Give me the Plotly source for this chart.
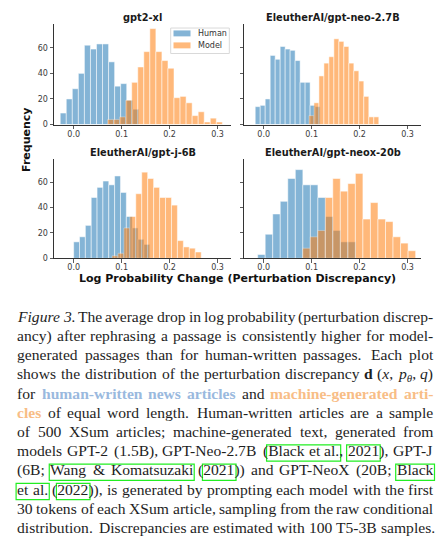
import plotly.graph_objects as go

FIG_W, FIG_H = 445, 551

# ---------------- data ----------------
panel_titles = ["gpt2-xl", "EleutherAI/gpt-neo-2.7B", "EleutherAI/gpt-j-6B", "EleutherAI/gpt-neox-20b"]
series_names = ["Human", "Model"]
series_colors = ["#1f77b4", "#ff7f0e"]
x_tick_vals = [0.0, 0.1, 0.2, 0.3]
y_tick_vals = [0, 20, 40, 60]
x_label = "Log Probability Change (Perturbation Discrepancy)"
y_label = "Frequency"

# histogram: first bin edge, bin width, counts per bin
gpt2_human_edge0, gpt2_human_binw = -0.028, 0.0126
gpt2_human_counts = [9, 20, 28, 40, 62, 59, 63, 63, 49, 30, 32, 19, 12]
gpt2_model_edge0, gpt2_model_binw = 0.0706, 0.0126
gpt2_model_counts = [4, 4, 6, 19, 33, 45, 57, 75, 57, 50, 44, 21, 22, 17, 7, 10, 2, 5, 2]

neo_human_edge0, neo_human_binw = -0.0176, 0.0104
neo_human_counts = [14, 15, 20, 54, 51, 61, 59, 58, 50, 33, 33, 15, 14]
neo_model_edge0, neo_model_binw = 0.0944, 0.0104
neo_model_counts = [7, 17, 38, 48, 53, 67, 65, 61, 48, 42, 34, 22, 6, 6]

gptj_human_edge0, gptj_human_binw = 0.0, 0.0122
gptj_human_counts = [13, 17, 26, 48, 56, 61, 58, 65, 52, 33, 24, 15, 11]
gptj_model_edge0, gptj_model_binw = 0.0799, 0.0124
gptj_model_counts = [2, 4, 24, 33, 51, 68, 63, 56, 48, 48, 42, 14, 9, 8, 5]

neox_human_edge0, neox_human_binw = -0.0125, 0.0157
neox_human_counts = [3, 19, 35, 45, 63, 70, 58, 58, 48, 33, 22, 13, 13]
neox_model_edge0, neox_model_binw = 0.0813, 0.0157
neox_model_counts = [8, 17, 22, 48, 63, 53, 59, 67, 31, 44, 31, 29, 17, 12, 6]

panels = [
    [(gpt2_human_edge0, gpt2_human_binw, gpt2_human_counts), (gpt2_model_edge0, gpt2_model_binw, gpt2_model_counts)],
    [(neo_human_edge0, neo_human_binw, neo_human_counts), (neo_model_edge0, neo_model_binw, neo_model_counts)],
    [(gptj_human_edge0, gptj_human_binw, gptj_human_counts), (gptj_model_edge0, gptj_model_binw, gptj_model_counts)],
    [(neox_human_edge0, neox_human_binw, neox_human_counts), (neox_model_edge0, neox_model_binw, neox_model_counts)],
]

CAPTION_LINES = [
    "§iFigure 3.§r The average drop in log probability (perturbation discrep-",
    "ancy) after rephrasing a passage is consistently higher for model-",
    "generated passages than for human-written passages. Each plot",
    "shows the distribution of the perturbation discrepancy §kd§r (§ix§r, §ip§sθ§r, §iq§r)",
    "for §bhuman-written news articles§r and §omachine-generated arti-",
    "§ocles§r of equal word length. Human-written articles are a sample",
    "of 500 XSum articles; machine-generated text, generated from",
    "models GPT-2 (1.5B), GPT-Neo-2.7B ([Black et al.], [2021]), GPT-J",
    "(6B; [Wang & Komatsuzaki] ([2021])) and GPT-NeoX (20B; [Black",
    "et al.] ([2022])), is generated by prompting each model with the first",
    "30 tokens of each XSum article, sampling from the raw conditional",
    "distribution. Discrepancies are estimated with 100 T5-3B samples.",
]

# ---------------- geometry (pixels) ----------------
panel_px = [(54, 231, 24, 125.7), (244, 421, 24, 125.7),
            (54, 231, 160, 260.7), (244, 421, 160, 260.7)]
X_RANGE = [-0.041, 0.328]
Y_RANGE = [0, 78.75]
ALPHA = 0.55


def px_x(p):
    return p / FIG_W


def px_y(p):
    return 1 - p / FIG_H


def rgba(hexcol, a):
    h = hexcol.lstrip("#")
    return "rgba(%d,%d,%d,%.3f)" % (int(h[0:2], 16), int(h[2:4], 16), int(h[4:6], 16), a)


fig = go.Figure()
layout = dict(
    width=FIG_W, height=FIG_H,
    margin=dict(l=0, r=0, t=0, b=0),
    paper_bgcolor="white", plot_bgcolor="white",
    barmode="overlay", bargap=0,
    showlegend=False,
)
annotations = []
shape_list = []

for k, (x0, x1, ytop, ybot) in enumerate(panel_px):
    sfx = "" if k == 0 else str(k + 1)
    xa, ya = "x" + sfx, "y" + sfx
    layout["xaxis" + sfx] = dict(
        domain=[px_x(x0), px_x(x1)], anchor=ya, range=X_RANGE,
        showgrid=False, zeroline=False, showline=True, linecolor="#333", linewidth=1,
        ticks="outside", ticklen=3.5, tickwidth=0.8, tickcolor="#333",
        tickvals=x_tick_vals, tickformat=".1f", ticklabelstandoff=-2,
        tickfont=dict(family="DejaVu Sans", size=8, color="#3a3a3a"),
    )
    layout["yaxis" + sfx] = dict(
        domain=[px_y(ybot), px_y(ytop)], anchor=xa, range=Y_RANGE,
        showgrid=False, zeroline=False, showline=True, linecolor="#333", linewidth=1,
        ticks="outside", ticklen=3.5, tickwidth=0.8, tickcolor="#333",
        tickvals=y_tick_vals, showticklabels=(k % 2 == 0),
        tickfont=dict(family="DejaVu Sans", size=8, color="#3a3a3a"),
    )
    for s, (edge0, binw, counts) in enumerate(panels[k]):
        centers = [edge0 + binw * (i + 0.5) for i in range(len(counts))]
        fig.add_trace(go.Bar(
            x=centers, y=counts, width=[binw] * len(counts),
            name=series_names[s], legendgroup=series_names[s],
            marker=dict(color=series_colors[s], line=dict(color="white", width=0.5)),
            opacity=ALPHA, xaxis=xa, yaxis=ya, hoverinfo="skip",
        ))
    annotations.append(dict(
        text="<b>%s</b>" % panel_titles[k], xref="paper", yref="paper",
        x=px_x((x0 + x1) / 2), y=px_y(ytop - 6.3), xanchor="center", yanchor="middle",
        showarrow=False, font=dict(family="DejaVu Sans", size=9.8, color="#1a1a1a"),
    ))

# legend (matplotlib style) inside first panel
LEG_BOX = (170.7, 229.3, 28.3, 54)
shape_list.append(dict(type="rect", xref="paper", yref="paper",
                       x0=px_x(LEG_BOX[0]), x1=px_x(LEG_BOX[1]), y0=px_y(LEG_BOX[3]), y1=px_y(LEG_BOX[2]),
                       line=dict(color="#d9d9d9", width=1), fillcolor="rgba(255,255,255,0.85)", layer="above"))
for s, yc in enumerate([33.7, 45.8]):
    shape_list.append(dict(type="rect", xref="paper", yref="paper",
                           x0=px_x(173.5), x1=px_x(190.5), y0=px_y(yc + 3), y1=px_y(yc - 3),
                           line=dict(width=0), fillcolor=rgba(series_colors[s], ALPHA), layer="above"))
    annotations.append(dict(text=series_names[s], xref="paper", yref="paper",
                            x=px_x(196), y=px_y(yc), xanchor="left", yanchor="middle",
                            showarrow=False, font=dict(family="DejaVu Sans", size=8, color="#333")))

annotations.append(dict(
    text="<b>%s</b>" % x_label, xref="paper", yref="paper",
    x=px_x(237.8), y=px_y(281.5), xanchor="center", yanchor="middle",
    showarrow=False, font=dict(family="DejaVu Sans", size=11, color="#111"),
))
annotations.append(dict(
    text="<b>%s</b>" % y_label, xref="paper", yref="paper", textangle=-90,
    x=px_x(27.2), y=px_y(141), xanchor="center", yanchor="middle",
    showarrow=False, font=dict(family="DejaVu Sans", size=11, color="#111"),
))

# ---------------- caption (justified, word-by-word) ----------------
REG = {' ': .25, '(': .333, ')': .333, ',': .25, '-': .333, '.': .25, ';': .278, '&': .778, ':': .278,
       'A': .722, 'B': .667, 'C': .667, 'D': .722, 'E': .611, 'F': .556, 'G': .722, 'H': .722, 'I': .333,
       'J': .389, 'K': .722, 'L': .611, 'M': .889, 'N': .722, 'O': .722, 'P': .556, 'Q': .722, 'R': .667,
       'S': .556, 'T': .611, 'U': .722, 'V': .722, 'W': .944, 'X': .722, 'Y': .722, 'Z': .611,
       'a': .444, 'b': .5, 'c': .444, 'd': .5, 'e': .444, 'f': .333, 'g': .5, 'h': .5, 'i': .278, 'j': .278,
       'k': .5, 'l': .278, 'm': .778, 'n': .5, 'o': .5, 'p': .5, 'q': .5, 'r': .333, 's': .389, 't': .278,
       'u': .5, 'v': .5, 'w': .722, 'x': .5, 'y': .5, 'z': .444}
for d in "0123456789":
    REG[d] = .5
BOLD = dict(REG)
BOLD.update({'a': .5, 'b': .556, 'd': .556, 'h': .556, 'j': .333, 'k': .556, 'm': .833, 'n': .556,
             'p': .556, 'q': .556, 'r': .444, 't': .333, 'u': .556})
ITAL = dict(REG)
ITAL.update({'F': .611, 'r': .389, 'x': .444, 'a': .5, 'c': .444, 'k': .444, 'm': .722, 'v': .444})

CAP_FS = 15.6
CAP_LEFT, CAP_RIGHT = 17.3, 433.3
CAP_BASE0, CAP_PITCH = 324.5, 19.39
BLUE_TXT, ORANGE_TXT = "#9ab9de", "#f8bd86"
STYLE_CODES = {'r': 'r', 'i': 'i', 'b': 'bb', 'o': 'bo', 'k': 'bk', 's': 's'}


def parse(line, state):
    style, link = state
    words, cur, buf = [], [], ""
    i = 0
    while i < len(line):
        ch = line[i]
        if ch in "§[] ":
            if buf:
                cur.append((buf, style, link))
                buf = ""
            if ch == '§':
                style = STYLE_CODES[line[i + 1]]
                i += 2
                continue
            if ch == '[':
                link = True
            elif ch == ']':
                link = False
            elif ch == ' ':
                if cur:
                    words.append(cur)
                cur = []
            i += 1
            continue
        buf += ch
        i += 1
    if buf:
        cur.append((buf, style, link))
    if cur:
        words.append(cur)
    return words, (style, link)


def piece_width(text, style):
    if style == 's':
        return 0.5 * 0.7 * CAP_FS * len(text)
    table = BOLD if style.startswith('b') else (ITAL if style == 'i' else REG)
    return sum(table.get(c, .5) for c in text) * CAP_FS


def esc(t):
    return t.replace("&", "&amp;").replace("<", "&lt;").replace(">", "&gt;")


def piece_html(text, style):
    t = esc(text)
    if style == 'i':
        return "<i>%s</i>" % t
    if style == 'bk':
        return "<b>%s</b>" % t
    if style == 'bb':
        return "<b><span style='color:%s'>%s</span></b>" % (BLUE_TXT, t)
    if style == 'bo':
        return "<b><span style='color:%s'>%s</span></b>" % (ORANGE_TXT, t)
    if style == 's':
        return "<sub><i>%s</i></sub>" % t
    return t


links = []
state = ('r', False)
n_lines = len(CAPTION_LINES)
for li, line in enumerate(CAPTION_LINES):
    words, state = parse(line, state)
    widths = [sum(piece_width(t, s) for t, s, _ in w) for w in words]
    weights = []
    for w in words[:-1]:
        last = w[-1][0]
        weights.append(1.4 if (last.endswith('.') and last not in ("al.", "3.")) else 1.0)
    right = CAP_RIGHT if li < n_lines - 1 else 435.0
    slack = (right - CAP_LEFT) - sum(widths)
    unit = slack / sum(weights) if weights else 0
    base = CAP_BASE0 + CAP_PITCH * li
    x = CAP_LEFT
    link_start = None
    last_end = None
    for wi, w in enumerate(words):
        annotations.append(dict(
            text="".join(piece_html(t, s) for t, s, _ in w), xref="paper", yref="paper",
            x=px_x(x), y=px_y(base - 0.891 * CAP_FS), xanchor="left", yanchor="top",
            showarrow=False, borderpad=0, borderwidth=0,
            font=dict(family="Liberation Serif", size=CAP_FS, color="#1e1e1e"),
        ))
        px = x
        for t, s, lk in w:
            pw = piece_width(t, s)
            if lk and link_start is None:
                link_start = px
            if not lk and link_start is not None:
                links.append((link_start, last_end, base))
                link_start = None
            if lk:
                last_end = px + pw
            px += pw
        x += widths[wi] + (unit * weights[wi] if wi < len(weights) else 0)
    if link_start is not None:
        links.append((link_start, last_end, base))
        link_start = None

for a, b, base in links:
    shape_list.append(dict(type="rect", xref="paper", yref="paper",
                           x0=px_x(a - 1.2), x1=px_x(b + 1.2),
                           y0=px_y(base + 5.2), y1=px_y(base - 11.2),
                           line=dict(color="#22ee22", width=1.2), fillcolor="rgba(0,0,0,0)"))

layout["shapes"] = shape_list
layout["annotations"] = annotations
fig.update_layout(**layout)
fig.write_html("out.html", config={"displayModeBar": False, "staticPlot": True},
               post_script="document.body.style.margin='0';document.body.style.overflow='hidden';")
